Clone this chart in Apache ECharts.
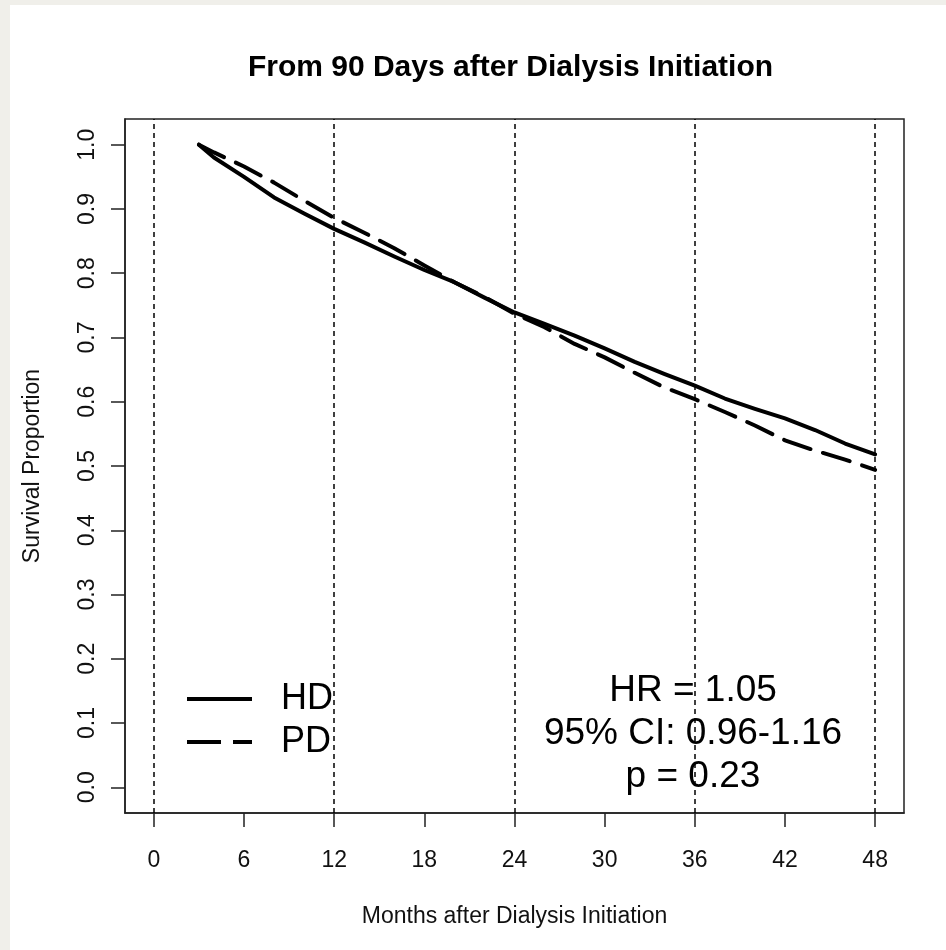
<!DOCTYPE html>
<html>
<head>
<meta charset="utf-8">
<script src="https://cdn.jsdelivr.net/npm/echarts@6/dist/echarts.min.js"></script>
<style>
html,body{margin:0;padding:0;background:#f0efea;width:946px;height:950px;overflow:hidden;}
#panel{position:absolute;left:10px;top:5px;right:0;bottom:0;background:#ffffff;}
#c{position:absolute;left:0;top:0;width:946px;height:950px;}
</style>
</head>
<body>
<div id="panel"></div>
<div id="c"></div>
<script>
// ---- data ----
const titleText = 'From 90 Days after Dialysis Initiation';
const xName = 'Months after Dialysis Initiation';
const yName = 'Survival Proportion';
const xTicks = [0, 6, 12, 18, 24, 30, 36, 42, 48];
const yTicks = [0, 0.1, 0.2, 0.3, 0.4, 0.5, 0.6, 0.7, 0.8, 0.9, 1.0];
const refLines = [0, 12, 24, 36, 48];
const months = [3, 4, 6, 8, 10, 12, 14, 16, 18, 20, 22, 24, 26, 28, 30, 32, 34, 36, 38, 40, 42, 44, 46, 48];
const hd = [1.0, 0.980, 0.950, 0.918, 0.893, 0.869, 0.848, 0.826, 0.805, 0.786, 0.762, 0.739, 0.721, 0.703, 0.683, 0.662, 0.643, 0.625, 0.605, 0.589, 0.574, 0.556, 0.535, 0.518];
const pd = [1.0, 0.988, 0.966, 0.941, 0.913, 0.886, 0.863, 0.839, 0.812, 0.786, 0.763, 0.737, 0.716, 0.690, 0.669, 0.645, 0.622, 0.604, 0.584, 0.563, 0.540, 0.524, 0.510, 0.494];
const seriesNames = ['HD', 'PD'];
const statLines = ['HR = 1.05', '95% CI: 0.96-1.16', 'p = 0.23'];

const FONT = 'Liberation Sans, Arial, sans-serif';
const chart = echarts.init(document.getElementById('c'), null, {renderer: 'canvas'});

const option = {
  animation: false,
  backgroundColor: 'transparent',
  title: {
    text: titleText,
    left: 505.5,
    textAlign: 'center',
    top: 48,
    textStyle: {fontFamily: FONT, fontWeight: 'bold', fontSize: 30, color: '#000'}
  },
  grid: {left: 125, top: 119, right: 42, bottom: 137, show: true, borderColor: '#222', borderWidth: 1.5, backgroundColor: 'transparent'},
  legend: {
    data: [
      {name: seriesNames[0], icon: 'path://M0 0H65V4H0Z'},
      {name: seriesNames[1], icon: 'path://M0 0H34V4H0ZM46 0H65V4H46Z'}
    ],
    orient: 'vertical',
    left: 182,
    top: 676,
    itemWidth: 65,
    itemHeight: 4,
    itemGap: 7,
    itemStyle: {color: '#000', borderWidth: 0},
    textStyle: {fontFamily: FONT, fontSize: 36, color: '#000', padding: [0, 0, 0, 24]},
    inactiveColor: '#000'
  },
  xAxis: {
    type: 'value',
    min: -1.92,
    max: 49.92,
    name: xName,
    nameLocation: 'middle',
    nameGap: 92,
    nameTextStyle: {fontFamily: FONT, fontSize: 23, color: '#111'},
    axisLine: {show: true, onZero: false, lineStyle: {color: '#222', width: 1.5}},
    axisTick: {show: true, customValues: xTicks, length: 14, lineStyle: {color: '#222', width: 1.5}},
    axisLabel: {customValues: xTicks, fontFamily: FONT, fontSize: 23, color: '#111', margin: 36},
    splitLine: {show: false}
  },
  yAxis: {
    type: 'value',
    min: -0.04,
    max: 1.04,
    name: yName,
    nameLocation: 'middle',
    nameGap: 81,
    nameTextStyle: {fontFamily: FONT, fontSize: 23, color: '#111'},
    axisLine: {show: true, onZero: false, lineStyle: {color: '#222', width: 1.5}},
    axisTick: {show: true, customValues: yTicks, length: 14, lineStyle: {color: '#222', width: 1.5}},
    axisLabel: {customValues: yTicks, rotate: 90, fontFamily: FONT, fontSize: 23, color: '#111', margin: 26,
      formatter: v => v.toFixed(1)},
    splitLine: {show: false}
  },
  graphic: [{
    type: 'text',
    x: 693,
    y: 734,
    style: {
      text: statLines.join('\n'),
      align: 'center',
      verticalAlign: 'middle',
      fontFamily: FONT,
      fontSize: 37,
      lineHeight: 43,
      fill: '#000'
    }
  }],
  series: [
    {
      name: seriesNames[0],
      type: 'line',
      data: months.map((m, i) => [m, hd[i]]),
      symbol: 'none',
      lineStyle: {color: '#000', width: 4, cap: 'round', join: 'round'},
      itemStyle: {color: '#000'},
      z: 3,
      markLine: {
        silent: true,
        symbol: 'none',
        label: {show: false},
        lineStyle: {color: '#000', width: 1.5, type: [5, 4]},
        data: refLines.map(v => ({xAxis: v}))
      }
    },
    {
      name: seriesNames[1],
      type: 'line',
      data: months.map((m, i) => [m, pd[i]]),
      symbol: 'none',
      lineStyle: {color: '#000', width: 4, type: [28, 13], cap: 'round', join: 'round'},
      itemStyle: {color: '#000'},
      z: 3
    }
  ]
};
chart.setOption(option);
</script>
</body>
</html>
